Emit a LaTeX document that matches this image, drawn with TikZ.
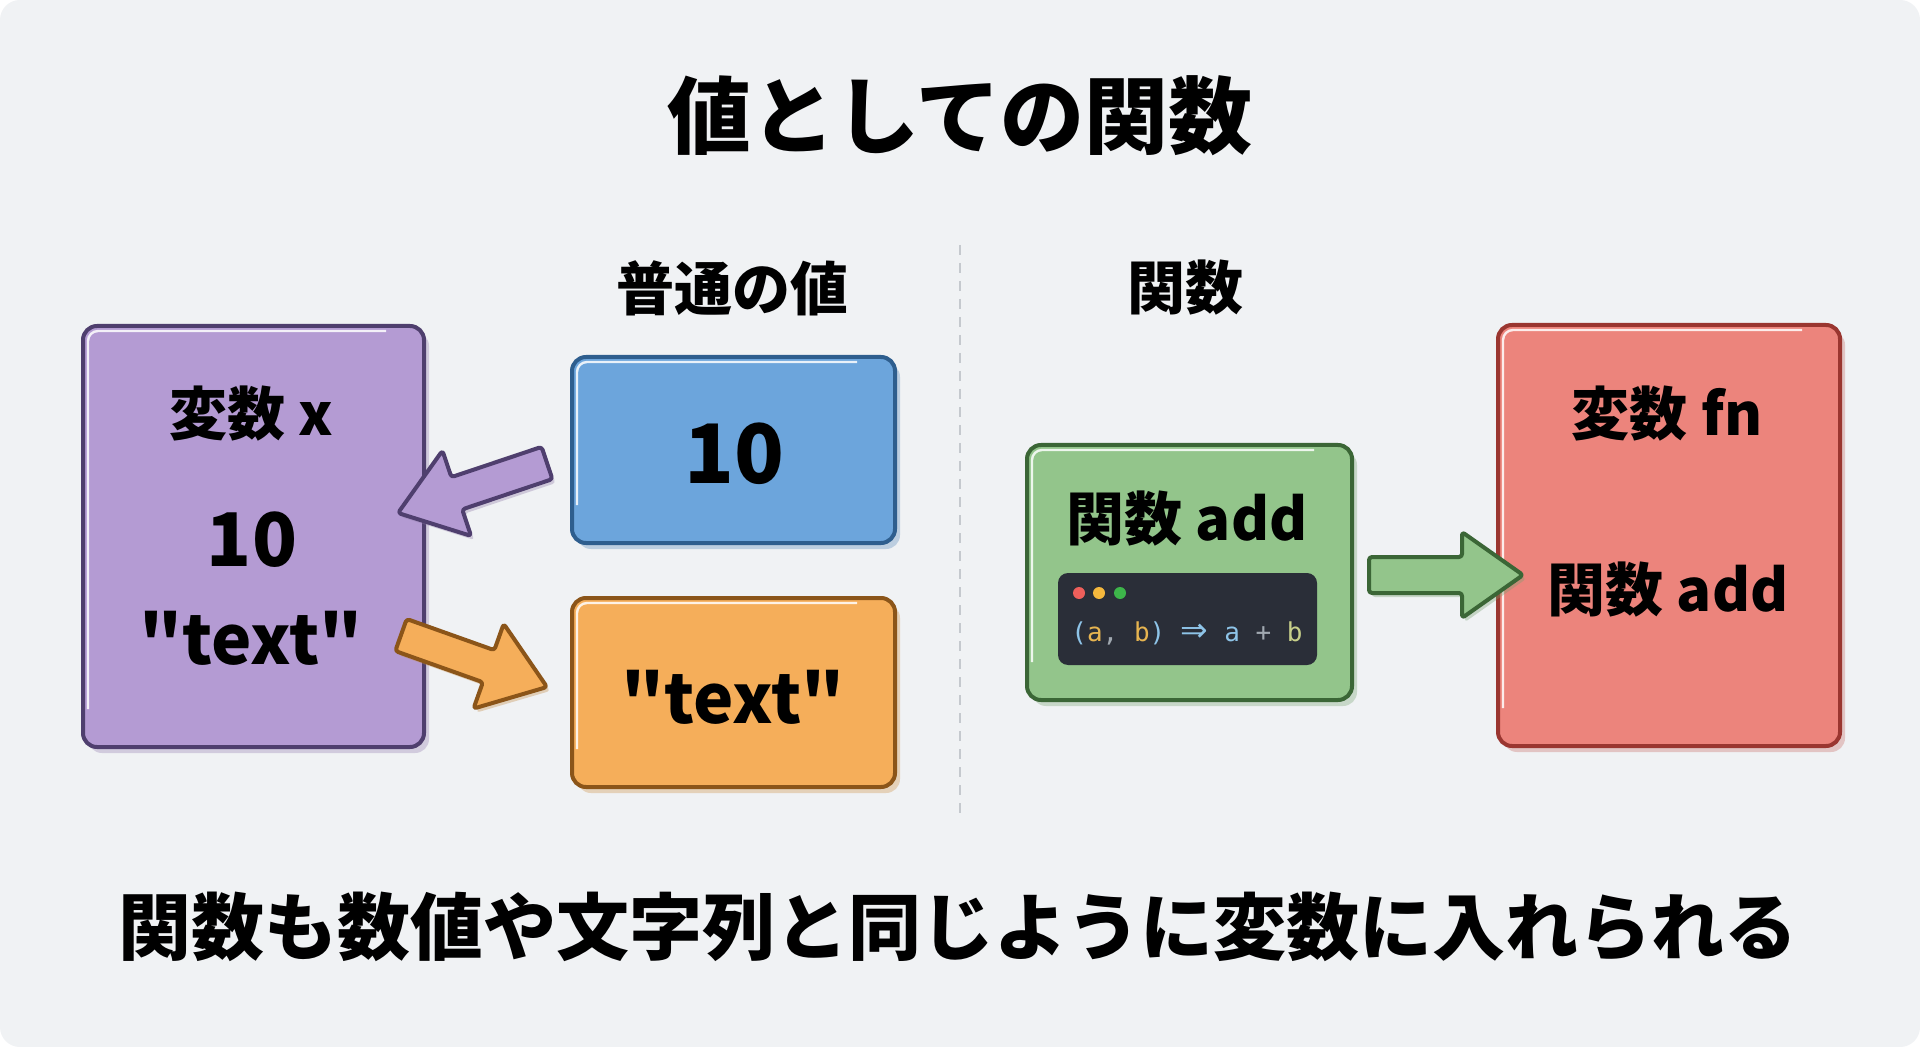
\documentclass[tikz,border=0pt]{standalone}
\usepackage{fontspec}
\newfontfamily\jp{Noto Sans CJK JP}
\newfontfamily\codefont{DejaVu Sans Mono}
\newfontfamily\symfont{DejaVu Sans}
\usetikzlibrary{calc}
\definecolor{bgc}{HTML}{F0F2F4}
\definecolor{pufill}{HTML}{B49BD3}
\definecolor{pudraw}{HTML}{4F3F6E}
\definecolor{blfill}{HTML}{6CA5DC}
\definecolor{bldraw}{HTML}{2E5E8E}
\definecolor{orfill}{HTML}{F5AE5A}
\definecolor{ordraw}{HTML}{8B5519}
\definecolor{grfill}{HTML}{93C58B}
\definecolor{grdraw}{HTML}{3B6636}
\definecolor{rdfill}{HTML}{EC847C}
\definecolor{rddraw}{HTML}{9A3630}
\definecolor{codebg}{HTML}{2A2E38}
\definecolor{cblue}{HTML}{8EC4E8}
\definecolor{cgold}{HTML}{E6B450}
\definecolor{cgray}{HTML}{A0A8B0}
\definecolor{cgreen}{HTML}{C8D08A}
\definecolor{dotr}{HTML}{EE5F5B}
\definecolor{doty}{HTML}{F5B83D}
\definecolor{dotg}{HTML}{3DB54A}
\definecolor{divc}{HTML}{C5C9CE}
\newcommand{\blockarrow}[6]{%
  \coordinate (ba-h) at ($(#3)!#6!(#2)$);
  \draw[#1] ($(#2)!#4!90:(#3)$) -- ($(ba-h)!#4!90:(#3)$) -- ($(ba-h)!#5!90:(#3)$) -- (#3)
    -- ($(ba-h)!#5!-90:(#3)$) -- ($(ba-h)!#4!-90:(#3)$) -- ($(#2)!#4!-90:(#3)$) -- cycle;}
\tikzset{
  box/.style={draw=#1draw, fill=#1fill, line width=2pt, rounded corners=7pt, inner sep=0pt,
    preaction={fill=#1fill!85!black, opacity=0.35, transform canvas={xshift=2.5pt,yshift=-3pt}}},
  hl/.style={white, line width=1.2pt, opacity=0.85, rounded corners=5pt},
  barrow/.style={draw=#1draw, fill=#1fill, line width=2pt, line join=round, rounded corners=1.5pt,
    preaction={fill=#1fill!80!black, opacity=0.35, transform canvas={xshift=1.5pt,yshift=-2pt}}},
  lbl/.style={font=\jp\bfseries\fontsize{29}{32}\selectfont, inner sep=0pt},
  big/.style={font=\jp\bfseries\fontsize{37}{40}\selectfont, inner sep=0pt},
  quo/.style={font=\jp\bfseries\fontsize{34}{38}\selectfont, inner sep=0pt},
  head/.style={font=\jp\bfseries\fontsize{29}{32}\selectfont, inner sep=0pt},
}
\begin{document}
\begin{tikzpicture}[x=0.5pt,y=-0.5pt]
\useasboundingbox (0,0) rectangle (1920,1047);
\fill[white] (0,0) rectangle (1920,1047);
\fill[bgc, rounded corners=10pt] (0,0) rectangle (1920,1047);

% title
\node[font=\jp\bfseries\fontsize{42}{46}\selectfont, inner sep=0pt] (title) at (960,116) {値としての関数};

% headers
\node[head] (h1) at (732,288) {普通の値};
\node[head] (h2) at (1185,288) {関数};

% divider
\coordinate (d1) at (960,245);
\coordinate (d2) at (960,814);
\draw[divc, line width=1pt, dash pattern=on 5pt off 4pt] (d1) -- (d2);

% boxes
\node[box=pu, minimum width=170.5pt, minimum height=210.5pt] (xvar) at (253.5,536.5) {};
\node[box=bl, minimum width=161.5pt, minimum height=93pt] (ten) at (733.5,450) {};
\node[box=or, minimum width=161.5pt, minimum height=94.5pt] (txt) at (733.5,692.5) {};
\node[box=gr, minimum width=162.5pt, minimum height=127.5pt] (fun) at (1189.5,572.5) {};
\node[box=rd, minimum width=171pt, minimum height=210.5pt] (fn) at (1669,535.5) {};

% highlights
\foreach \b in {xvar,ten,txt,fun,fn}{
  \draw[hl] ($(\b.south west)+(7,-40)$) -- ($(\b.north west)+(7,7)$) -- ($(\b.north east)+(-40,7)$);
}

% purple box texts
\node[lbl] (xl) at (251,414) {変数 x};
\node[big] (x10) at (252,540) {10};
\node[quo] (xtxt) at (251,638) {"text"};

% blue & orange
\node[font=\jp\bfseries\fontsize{41}{44}\selectfont, inner sep=0pt] (t10) at (734,454) {10};
\node[quo] (ttxt) at (733,697) {"text"};

% green box
\node[lbl] (fl) at (1187,519) {関数 add};
\node[fill=codebg, rounded corners=5pt, minimum width=129.5pt, minimum height=46pt, inner sep=0pt] (code) at (1187.5,619) {};
\fill[dotr] (1079,593) circle (3pt);
\fill[doty] (1099,593) circle (3pt);
\fill[dotg] (1120,593) circle (3pt);
\node[anchor=west, inner sep=0pt, font=\codefont\fontsize{13}{15}\selectfont] (ctext) at (1071,633)
  {\textcolor{cblue}{(}\textcolor{cgold}{a}\textcolor{cgray}{,} \textcolor{cgold}{b}\textcolor{cblue}{)} \textcolor{cblue}{\symfont\fontsize{16.5}{15}\selectfont ⇒} \textcolor{cblue}{a} \textcolor{cgray}{+} \textcolor{cgreen}{b}};

% red box
\node[lbl] (rl) at (1667,414) {変数 fn};
\node[lbl] (rv) at (1668,590) {関数 add};

% arrows
\coordinate (pa-t) at (547,463);
\coordinate (pa-p) at (398,513);
\coordinate (oa-t) at (401,635);
\coordinate (oa-p) at (547,687);
\coordinate (ga-t) at (1369,575);
\coordinate (ga-p) at (1523,575);
\blockarrow{barrow=pu}{pa-t}{pa-p}{8.5pt}{22.5pt}{31pt}
\blockarrow{barrow=or}{oa-t}{oa-p}{8.5pt}{22.5pt}{31pt}
\blockarrow{barrow=gr}{ga-t}{ga-p}{9pt}{21.5pt}{30.5pt}

% bottom
\node[font=\jp\bfseries\fontsize{36.5}{40}\selectfont, inner sep=0pt] (bottom) at (958,927) {関数も数値や文字列と同じように変数に入れられる};
\end{tikzpicture}
\end{document}
